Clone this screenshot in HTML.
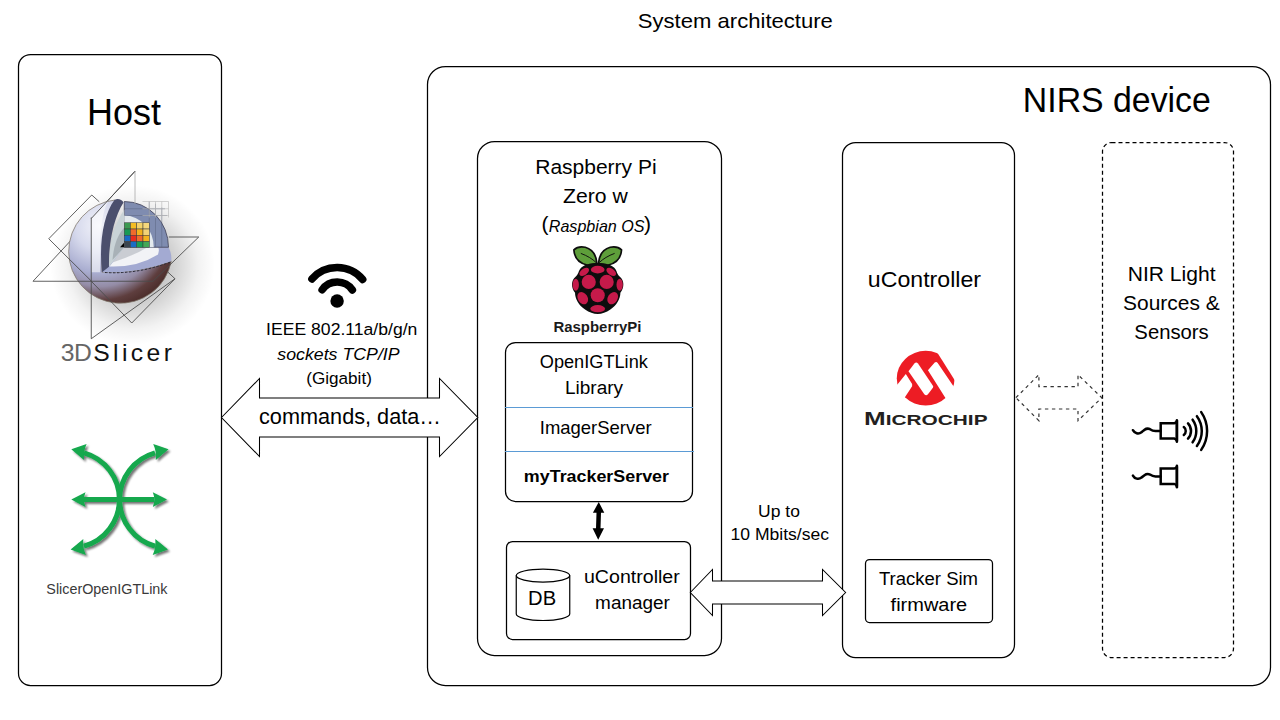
<!DOCTYPE html>
<html><head><meta charset="utf-8"><title>System architecture</title>
<style>
html,body{margin:0;padding:0;background:#fff;}
svg{display:block;}
text{font-family:"Liberation Sans",sans-serif;}
</style></head><body>
<svg width="1280" height="720" viewBox="0 0 1280 720">
<rect width="1280" height="720" fill="#fff"/>
<defs>
  <radialGradient id="sph" cx="0.3" cy="0.25" r="0.95">
    <stop offset="0" stop-color="#f2f3fa"/>
    <stop offset="0.25" stop-color="#d6d9ec"/>
    <stop offset="0.48" stop-color="#a9add0"/>
    <stop offset="0.62" stop-color="#948ca6"/>
    <stop offset="0.76" stop-color="#5e3e3e"/>
    <stop offset="1" stop-color="#341812"/>
  </radialGradient>
  <radialGradient id="shd" cx="0.5" cy="0.5" r="0.5">
    <stop offset="0" stop-color="#000" stop-opacity="0.4"/>
    <stop offset="0.55" stop-color="#000" stop-opacity="0.16"/>
    <stop offset="0.8" stop-color="#000" stop-opacity="0.05"/>
    <stop offset="1" stop-color="#000" stop-opacity="0"/>
  </radialGradient>
  <filter id="gsh" x="-20%" y="-20%" width="140%" height="140%">
    <feGaussianBlur in="SourceAlpha" stdDeviation="1.2"/>
    <feOffset dx="1.5" dy="1.5"/>
    <feComponentTransfer><feFuncA type="linear" slope="0.5"/></feComponentTransfer>
    <feMerge><feMergeNode/><feMergeNode in="SourceGraphic"/></feMerge>
  </filter>
</defs>

<!-- main boxes -->
<g fill="none" stroke="#000" stroke-width="1.25">
  <rect x="18.5" y="54.5" width="203" height="631" rx="12"/>
  <rect x="427.5" y="66.5" width="843" height="619" rx="18"/>
  <rect x="477.5" y="141.5" width="244" height="514" rx="17"/>
  <rect x="842.5" y="142.5" width="172" height="515" rx="13"/>
  <rect x="505.5" y="342.5" width="187" height="159" rx="10"/>
  <rect x="506.5" y="541.5" width="184" height="98" rx="6"/>
  <rect x="865.5" y="559.5" width="127" height="63" rx="4"/>
</g>
<rect x="1102.5" y="142.5" width="131" height="515" rx="9" fill="none" stroke="#000" stroke-width="1.25" stroke-dasharray="4 3"/>
<g stroke="#5b9bd5" stroke-width="1.2">
  <line x1="505" y1="407.5" x2="693" y2="407.5"/>
  <line x1="505" y1="451.5" x2="694" y2="451.5"/>
</g>

<!-- arrows -->
<path d="M221.5,417.5 L259.5,378.5 L259.5,398 L439.5,398 L439.5,378.5 L477.8,417.5 L439.5,456.5 L439.5,437 L259.5,437 L259.5,456.5 Z" fill="#fff" stroke="#000" stroke-width="1.05"/>
<path d="M690.3,592.5 L712.5,569.5 L712.5,581 L822.5,581 L822.5,569.5 L845.6,592.5 L822.5,615.5 L822.5,604 L712.5,604 L712.5,615.5 Z" fill="#fff" stroke="#000" stroke-width="1.05"/>
<path d="M1015.9,397.7 L1038.9,374.7 L1038.9,386.6 L1078,386.6 L1078,374.7 L1101.8,397.7 L1078,420.7 L1078,409 L1038.9,409 L1038.9,420.7 Z" fill="#fff" stroke="#333" stroke-width="1.2" stroke-dasharray="3.4 3.6"/>
<path d="M598.75,502 L604.3,512.7 L601,512.7 L600.5,528.3 L604,528.3 L598.2,539.8 L592.6,528.3 L596,528.3 L596.5,512.7 L592.9,512.7 Z" fill="#000"/>

<!-- DB cylinder -->
<g fill="none" stroke="#000" stroke-width="1.2">
  <ellipse cx="543" cy="575.6" rx="26.75" ry="6.5"/>
  <path d="M516.25,575.6 V614 A26.75,6.5 0 0,0 569.75,614 V575.6"/>
</g>

<!-- wifi -->
<g fill="none" stroke="#000" stroke-width="7.5" stroke-linecap="round">
  <path d="M311.9,279 A33.5,33.5 0 0,1 362.7,279.5"/>
  <path d="M322.1,289.8 A18.5,18.5 0 0,1 352.4,290"/>
</g>
<circle cx="337.1" cy="301" r="6.7" fill="#000"/>
<g transform="translate(30,160) scale(0.25)">
  <ellipse cx="410" cy="420" rx="330" ry="320" fill="url(#shd)"/>
  <path d="M12,485 L420,45" fill="none" stroke="#4a4a4a" stroke-width="3.5"/>
  <!-- sphere body (clipped cut) -->
  <path d="M340,160 A207,207 0 1,0 565,405 Q430,455 288,449 Q280,290 340,160 Z" fill="url(#sph)" stroke="#7d7468" stroke-width="3"/>
  <path d="M245,234 L316,158 Q290,200 282,300 L280,449 L245,449 Z" fill="#ffffff" opacity="0.55"/>
  <!-- horizontal cut surface -->
  <path d="M288,449 Q430,455 565,405 Q568,375 554,349 L377,349 Z" fill="#a3aad2"/>
  <path d="M318,426 Q430,430 512,378 Q518,362 513,349 L377,349 Z" fill="#f2f3f6"/>
  <path d="M330,410 L377,349 L470,349 Q420,380 330,410 Z" fill="#9aa0a8" opacity="0.45"/>
  <path d="M300,450 Q430,458 562,408" fill="none" stroke="#2a2a38" stroke-width="4" stroke-dasharray="10 6"/>
  <!-- back vertical face -->
  <path d="M377,349 V166 A177,183 0 0,1 554,349 Z" fill="#7f8cb0" stroke="#3a3a50" stroke-width="3"/>
  <path d="M377,349 V222 A118,127 0 0,1 495,349 Z" fill="#e4eaee"/>
  <g stroke="#55607a" stroke-width="3" opacity="0.6" fill="none">
    <path d="M377,195 H540 M377,222 H500 M502,222 H548 M477,166 V349 M502,175 V349 M527,190 V349"/>
  </g>
  <g stroke="#b8b8b8" stroke-width="2.5" fill="none">
    <path d="M450,166 H554 M450,195 H554 M450,222 H554 M477,166 V230 M502,166 V230 M527,166 V230 M554,166 V230"/>
  </g>
  <!-- left vertical cut face -->
  <path d="M288,449 C275,330 295,215 338,160 C350,152 368,158 374,170 C336,228 314,330 316,427 Z" fill="#4b4f6d"/>
  <path d="M316,427 C316,330 334,262 377,199 L377,349 Z" fill="#c9d3d7"/>
  <path d="M330,400 C335,340 350,300 377,270 L377,349 Z" fill="#8c959c" opacity="0.55"/>
  <path d="M360,349 L377,330 L377,349 Z" fill="#000"/>
  <!-- colour grid -->
  <g stroke="#3a3a3a" stroke-width="2">
    <rect x="377" y="251" width="25" height="25" fill="#3c9a52"/>
    <rect x="402" y="251" width="25" height="25" fill="#f4bd22"/>
    <rect x="427" y="251" width="25" height="25" fill="#f3d36a"/>
    <rect x="452" y="251" width="25" height="25" fill="#f4d77c"/>
    <rect x="377" y="276" width="25" height="25" fill="#1a9a55"/>
    <rect x="402" y="276" width="25" height="25" fill="#f06a2c"/>
    <rect x="427" y="276" width="25" height="25" fill="#f3b21c"/>
    <rect x="452" y="276" width="25" height="25" fill="#f1d276"/>
    <rect x="377" y="301" width="25" height="25" fill="#1a6cc4"/>
    <rect x="402" y="301" width="25" height="25" fill="#ea2c1e"/>
    <rect x="427" y="301" width="25" height="25" fill="#f06a2c"/>
    <rect x="452" y="301" width="25" height="25" fill="#f2b21e"/>
    <rect x="377" y="326" width="25" height="23" fill="#3b4650"/>
    <rect x="402" y="326" width="25" height="23" fill="#1a6cc4"/>
    <rect x="427" y="326" width="25" height="23" fill="#1aa055"/>
    <rect x="452" y="326" width="25" height="23" fill="#44a857"/>
  </g>
  <!-- planes -->
  <g fill="none" stroke="#4a4a4a" stroke-width="3.5" stroke-linejoin="miter">
    <path d="M420,45 L420,175" stroke="#b0b0b0"/>
    <path d="M245,234 L420,45"/>
    <path d="M277,167 L247,140 L75,315 L245,484"/>
    <path d="M12,485 L492,485 L675,308 L555,308"/>
    <path d="M245,230 L245,715 L580,475 L550,447"/>
    <path d="M245,485 L407,652 L580,475"/>
  </g>
</g>
<g transform="translate(565,242) scale(0.10552)">
  <path d="M303,205 C298,140 270,72 192,50 C142,40 104,55 84,74 C88,140 128,198 208,218 C250,228 288,222 303,205 Z" fill="#5e9e3a" stroke="#0d0d0d" stroke-width="16" stroke-linejoin="round"/>
  <path d="M317,205 C322,140 350,72 428,50 C478,40 516,55 536,74 C532,140 492,198 412,218 C370,228 332,222 317,205 Z" fill="#5e9e3a" stroke="#0d0d0d" stroke-width="16" stroke-linejoin="round"/>
  <path d="M150,108 C210,130 260,160 295,195 M470,108 C410,130 360,160 325,195" fill="none" stroke="#0d0d0d" stroke-width="9"/>
  <path d="M310,200 C370,198 450,215 480,260 C495,285 490,300 520,330 C562,365 565,430 525,482 C525,540 490,600 430,640 C390,668 350,682 310,682 C270,682 230,668 190,640 C130,600 95,540 95,482 C55,430 58,365 100,330 C130,300 125,285 140,260 C170,215 250,198 310,200 Z" fill="#0d0d0d"/>
  <g fill="#c51a4a">
    <ellipse cx="310" cy="262" rx="65" ry="36"/>
    <ellipse cx="182" cy="283" rx="52" ry="30" transform="rotate(-35 182 283)"/>
    <ellipse cx="438" cy="283" rx="52" ry="30" transform="rotate(35 438 283)"/>
    <circle cx="225" cy="378" r="67"/>
    <circle cx="395" cy="378" r="67"/>
    <ellipse cx="102" cy="405" rx="30" ry="56"/>
    <ellipse cx="518" cy="405" rx="30" ry="56"/>
    <circle cx="310" cy="505" r="67"/>
    <ellipse cx="168" cy="532" rx="46" ry="62" transform="rotate(-32 168 532)"/>
    <ellipse cx="452" cy="532" rx="46" ry="62" transform="rotate(32 452 532)"/>
    <ellipse cx="310" cy="632" rx="70" ry="34"/>
  </g>
</g>
<g transform="translate(890,345) scale(0.09033)">
  <ellipse cx="395" cy="368" rx="320" ry="303" fill="#ed1c24"/>
  <g fill="#fff">
    <path d="M205,290 L270,205 Q290,180 310,205 L475,450 Q482,462 475,472 L420,545 Q400,570 380,545 L210,300 Z"/>
    <path d="M420,280 L495,195 Q512,178 528,200 L710,468 L900,468 L900,900 L612,585 Z"/>
    <path d="M528,60 L530,95 L722,398 L900,398 L900,0 L528,0 Z"/>
    <path d="M60,440 L80,440 L175,322 L245,432 L245,458 L165,578 L40,578 Z"/>
  </g>
</g>
<defs>
  <g id="spk">
    <path d="M1132.9,430.2 C1134.5,433.2 1138.5,434.5 1141.5,432.2 C1144.5,429.8 1146.5,427.2 1150,429.2 C1152,430.6 1153.5,431 1155.5,431 L1160.5,431" fill="none" stroke="#000" stroke-width="2.5" stroke-linecap="round"/>
    <path d="M1160.7,423.2 H1174.2 Q1176,423 1176.9,421 V441 Q1176,439 1174.2,438.5 H1160.7 Z" fill="none" stroke="#000" stroke-width="2.5" stroke-linejoin="miter"/>
    <path d="M1176.9,420.3 V441.8" stroke="#000" stroke-width="2.5" stroke-linecap="round"/>
  </g>
</defs>
<use href="#spk"/>
<use href="#spk" transform="translate(0,45.4)"/>
<g fill="none" stroke="#000" stroke-width="2.5" stroke-linecap="round">
  <path d="M1183.8,427.05 A4.97,4.97 0 0,1 1183.8,434.95"/>
  <path d="M1188,423.45 A11,11 0 0,1 1188,438.55"/>
  <path d="M1192.6,419.65 A19.3,19.3 0 0,1 1192.6,442.35"/>
  <path d="M1196.9,416.15 A25.3,25.3 0 0,1 1196.9,446.05"/>
  <path d="M1201.2,412.15 A33.1,33.1 0 0,1 1201.2,449.85"/>
</g>

<!-- SlicerOpenIGTLink icon -->
<defs>
  <filter id="gsd" x="-20%" y="-20%" width="150%" height="150%">
    <feGaussianBlur in="SourceAlpha" stdDeviation="1.3"/>
    <feOffset dx="1.6" dy="1.8"/>
    <feComponentTransfer><feFuncA type="linear" slope="0.55"/></feComponentTransfer>
    <feMerge><feMergeNode/><feMergeNode in="SourceGraphic"/></feMerge>
  </filter>
</defs>
<g filter="url(#gsd)">
  <g fill="none" stroke="#13a84d" stroke-width="5">
    <path d="M84,452.8 A48.5,48.5 0 0,1 84,546.2"/>
    <path d="M155,452.8 A48.5,48.5 0 0,0 155,546.2"/>
    <path d="M82,499.6 H154"/>
  </g>
  <g fill="#13a84d">
    <path d="M71.3,449.2 L86.6,444 Q83.2,451 84,460 Z"/>
    <path d="M168.5,449.2 L153.2,444 Q156.6,451 155.8,460 Z"/>
    <path d="M70.6,549.4 L85.9,555 Q82.5,548 83.3,539 Z"/>
    <path d="M168,549.4 L152.7,555 Q156.1,548 155.3,539 Z"/>
    <path d="M71.3,499.6 L85.5,492.3 Q82.5,499.6 85.5,506.9 Z"/>
    <path d="M167,499.6 L152.8,492.3 Q155.8,499.6 152.8,506.9 Z"/>
  </g>
</g>

<text x="637.81" y="27.60" font-size="20.14" textLength="195.08" lengthAdjust="spacingAndGlyphs">System architecture</text>
<text x="86.99" y="125.00" font-size="36.57" textLength="73.99" lengthAdjust="spacingAndGlyphs">Host</text>
<text x="1022.86" y="112.00" font-size="35.71" textLength="187.91" lengthAdjust="spacingAndGlyphs">NIRS device</text>
<text x="266.13" y="334.70" font-size="16.29" textLength="151.26" lengthAdjust="spacingAndGlyphs">IEEE 802.11a/b/g/n</text>
<text x="277.30" y="359.70" font-size="16.29" textLength="122.31" lengthAdjust="spacingAndGlyphs" font-style="italic">sockets TCP/IP</text>
<text x="306.20" y="384.20" font-size="16.29" textLength="65.69" lengthAdjust="spacingAndGlyphs">(Gigabit)</text>
<text x="259.02" y="423.60" font-size="21.43" textLength="181.99" lengthAdjust="spacingAndGlyphs">commands, data…</text>
<text x="535.26" y="173.75" font-size="20.50" textLength="121.37" lengthAdjust="spacingAndGlyphs">Raspberry Pi</text>
<text x="563.09" y="202.50" font-size="20.57" textLength="64.75" lengthAdjust="spacingAndGlyphs">Zero w</text>
<text x="548.75" y="231.90" font-size="17.00" textLength="95.82" lengthAdjust="spacingAndGlyphs" font-style="italic">Raspbian OS</text>
<text x="553.47" y="331.70" font-size="15.43" textLength="88.02" lengthAdjust="spacingAndGlyphs" font-weight="bold" fill="#1a1a1a">RaspberryPi</text>
<text x="539.75" y="367.90" font-size="18.43" textLength="108.07" lengthAdjust="spacingAndGlyphs">OpenIGTLink</text>
<text x="565.02" y="393.75" font-size="18.79" textLength="58.08" lengthAdjust="spacingAndGlyphs">Library</text>
<text x="539.81" y="433.75" font-size="18.21" textLength="111.78" lengthAdjust="spacingAndGlyphs">ImagerServer</text>
<text x="523.88" y="481.90" font-size="17.36" textLength="145.12" lengthAdjust="spacingAndGlyphs" font-weight="bold">myTrackerServer</text>
<text x="528.12" y="605.00" font-size="21.14" textLength="28.02" lengthAdjust="spacingAndGlyphs">DB</text>
<text x="583.98" y="583.00" font-size="18.71" textLength="95.82" lengthAdjust="spacingAndGlyphs">uController</text>
<text x="595.12" y="609.00" font-size="18.71" textLength="74.78" lengthAdjust="spacingAndGlyphs">manager</text>
<text x="758.11" y="516.75" font-size="16.64" textLength="41.80" lengthAdjust="spacingAndGlyphs">Up to</text>
<text x="730.60" y="539.50" font-size="16.00" textLength="98.42" lengthAdjust="spacingAndGlyphs">10 Mbits/sec</text>
<text x="867.85" y="286.90" font-size="21.29" textLength="113.16" lengthAdjust="spacingAndGlyphs">uController</text>
<text x="878.91" y="585.10" font-size="19.14" textLength="99.15" lengthAdjust="spacingAndGlyphs">Tracker Sim</text>
<text x="890.60" y="611.10" font-size="19.14" textLength="76.61" lengthAdjust="spacingAndGlyphs">firmware</text>
<text x="1127.75" y="281.00" font-size="21.07" textLength="87.77" lengthAdjust="spacingAndGlyphs">NIR Light</text>
<text x="1123.10" y="309.75" font-size="21.07" textLength="96.53" lengthAdjust="spacingAndGlyphs">Sources &amp;</text>
<text x="1134.37" y="338.75" font-size="20.50" textLength="74.37" lengthAdjust="spacingAndGlyphs">Sensors</text>
<text x="46.35" y="594.30" font-size="14.71" textLength="121.12" lengthAdjust="spacingAndGlyphs" fill="#3a3a3a">SlicerOpenIGTLink</text>
<text x="60.63" y="360.50" font-size="24.71" textLength="31.33" lengthAdjust="spacing" fill="#666666">3D</text>
<text x="93.13" y="360.50" font-size="24.71" textLength="78.89" lengthAdjust="spacing" fill="#111111">Slicer</text>
<text x="863.97" y="425.20" font-size="18.14" textLength="21.67" lengthAdjust="spacingAndGlyphs" font-weight="bold" fill="#231f20">M</text>
<text x="885.70" y="425.20" font-size="13.86" textLength="101.85" lengthAdjust="spacingAndGlyphs" font-weight="bold" fill="#231f20">ICROCHIP</text>
<text x="541.52" y="231.01" font-size="20.98">(</text>
<text x="644.10" y="231.01" font-size="20.98">)</text>
</svg>
</body></html>
